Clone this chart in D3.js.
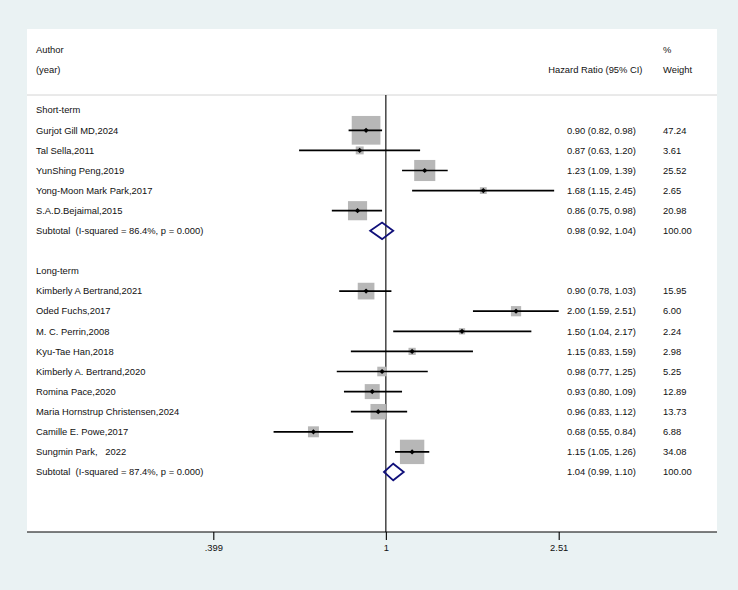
<!DOCTYPE html>
<html>
<head>
<meta charset="utf-8">
<script src="https://cdn.jsdelivr.net/npm/d3@7"></script>
<style>
  body { margin: 0; background: #eaf2f3; }
  svg { display: block; }
  text { font-family: "Liberation Sans", Arial, sans-serif; font-size: 9.4px; fill: #111; white-space: pre; }
</style>
</head>
<body>
<svg id="chart" width="738" height="590"></svg>
<script>
// study rows, in order
const labels = ["Short-term", "Gurjot Gill MD,2024", "Tal Sella,2011", "YunShing Peng,2019",
  "Yong-Moon Mark Park,2017", "S.A.D.Bejaimal,2015", "Subtotal  (I-squared = 86.4%, p = 0.000)", "",
  "Long-term", "Kimberly A Bertrand,2021", "Oded Fuchs,2017", "M. C. Perrin,2008", "Kyu-Tae Han,2018",
  "Kimberly A. Bertrand,2020", "Romina Pace,2020", "Maria Hornstrup Christensen,2024",
  "Camille E. Powe,2017", "Sungmin Park,   2022", "Subtotal  (I-squared = 87.4%, p = 0.000)"];
// row type: h = heading, s = study, t = subtotal, b = blank
const rowType = ["h", "s", "s", "s", "s", "s", "t", "b", "h", "s", "s", "s", "s", "s", "s", "s", "s", "s", "t"];
const hr    = [null, 0.90, 0.87, 1.23, 1.68, 0.86, 0.98, null, null, 0.90, 2.00, 1.50, 1.15, 0.98, 0.93, 0.96, 0.68, 1.15, 1.04];
const lower = [null, 0.82, 0.63, 1.09, 1.15, 0.75, 0.92, null, null, 0.78, 1.59, 1.04, 0.83, 0.77, 0.80, 0.83, 0.55, 1.05, 0.99];
const upper = [null, 0.98, 1.20, 1.39, 2.45, 0.98, 1.04, null, null, 1.03, 2.51, 2.17, 1.59, 1.25, 1.09, 1.12, 0.84, 1.26, 1.10];
const weight = [null, 47.24, 3.61, 25.52, 2.65, 20.98, 100.00, null, null, 15.95, 6.00, 2.24, 2.98, 5.25, 12.89, 13.73, 6.88, 34.08, 100.00];
const tickValues = [0.399, 1, 2.51];
const tickLabels = [".399", "1", "2.51"];

const svg = d3.select("#chart");
const panel = { left: 27, right: 717, top: 29, bottom: 532 };

// white plot panel
svg.append("rect")
  .attr("x", panel.left).attr("y", panel.top)
  .attr("width", panel.right - panel.left).attr("height", panel.bottom - panel.top)
  .attr("fill", "#fff");

// log scale for hazard ratios
const x = d3.scaleLog().domain([0.399, 2.51]).range([213.3, 558.7]);
const y = d3.scaleLinear().domain([0, 18]).range([110.2, 472]);
const boxSide = d3.scaleSqrt().domain([0, 47.24]).range([0, 28.7]);

// header
const head = svg.append("g");
head.append("text").attr("x", 36).attr("y", 50).attr("dy", "0.35em").text("Author");
head.append("text").attr("x", 36).attr("y", 70).attr("dy", "0.35em").text("(year)");
head.append("text").attr("x", 642.5).attr("y", 70).attr("dy", "0.35em").attr("text-anchor", "end").text("Hazard Ratio (95% CI)");
head.append("text").attr("x", 663).attr("y", 50).attr("dy", "0.35em").text("%");
head.append("text").attr("x", 663).attr("y", 70).attr("dy", "0.35em").text("Weight");
svg.append("line")
  .attr("x1", panel.left).attr("x2", panel.right).attr("y1", 95).attr("y2", 95)
  .attr("stroke", "#d4d4d4").attr("stroke-width", 1);

// null line at HR = 1
svg.append("line")
  .attr("x1", x(1)).attr("x2", x(1)).attr("y1", 95).attr("y2", panel.bottom)
  .attr("stroke", "#000").attr("stroke-width", 1.1);

const idx = d3.range(labels.length);

// row labels
svg.append("g").selectAll("text").data(idx).join("text")
  .attr("x", 36).attr("y", i => y(i)).attr("dy", "0.35em")
  .attr("xml:space", "preserve")
  .text(i => labels[i]);

const studies = idx.filter(i => rowType[i] == "s");
const subtotals = idx.filter(i => rowType[i] == "t");

// weight boxes
svg.append("g").selectAll("rect").data(studies).join("rect")
  .attr("x", i => x(hr[i]) - boxSide(weight[i]) / 2)
  .attr("y", i => y(i) - boxSide(weight[i]) / 2)
  .attr("width", i => boxSide(weight[i]))
  .attr("height", i => boxSide(weight[i]))
  .attr("fill", "#b7b7b7");

// confidence intervals
svg.append("g").selectAll("line").data(studies).join("line")
  .attr("x1", i => x(lower[i])).attr("x2", i => x(upper[i]))
  .attr("y1", i => y(i)).attr("y2", i => y(i))
  .attr("stroke", "#000").attr("stroke-width", 1.7);

// point estimates (small diamonds)
svg.append("g").selectAll("path").data(studies).join("path")
  .attr("d", i => {
    let cx = x(hr[i]), cy = y(i), r = 2.6;
    return `M${cx - r},${cy}L${cx},${cy - r}L${cx + r},${cy}L${cx},${cy + r}Z`;
  })
  .attr("fill", "#000");

// subtotal diamonds
svg.append("g").selectAll("path").data(subtotals).join("path")
  .attr("d", i => {
    let cy = y(i), h = 8.3;
    return `M${x(lower[i])},${cy}L${x(hr[i])},${cy - h}L${x(upper[i])},${cy}L${x(hr[i])},${cy + h}Z`;
  })
  .attr("fill", "none").attr("stroke", "#10107a").attr("stroke-width", 1.8);

// HR (95% CI) and weight columns
const fmt = d3.format(".2f");
const rows = idx.filter(i => rowType[i] == "s" || rowType[i] == "t");
svg.append("g").selectAll("text").data(rows).join("text")
  .attr("x", 567).attr("y", i => y(i)).attr("dy", "0.35em")
  .text(i => `${fmt(hr[i])} (${fmt(lower[i])}, ${fmt(upper[i])})`);
svg.append("g").selectAll("text").data(rows).join("text")
  .attr("x", 663).attr("y", i => y(i)).attr("dy", "0.35em")
  .text(i => fmt(weight[i]));

// x axis
const axis = svg.append("g").attr("transform", `translate(0,${panel.bottom})`)
  .call(d3.axisBottom(x).tickValues(tickValues).tickFormat((d, i) => tickLabels[i]).tickSize(8).tickPadding(4));
axis.select(".domain").remove();
axis.selectAll("text").style("font-family", "Liberation Sans, Arial, sans-serif").style("font-size", "9.4px").attr("fill", "#111");
axis.selectAll(".tick line").attr("stroke-width", 1.1);
svg.append("line")
  .attr("x1", panel.left).attr("x2", panel.right).attr("y1", panel.bottom).attr("y2", panel.bottom)
  .attr("stroke", "#000").attr("stroke-width", 1.1);
</script>
</body>
</html>
